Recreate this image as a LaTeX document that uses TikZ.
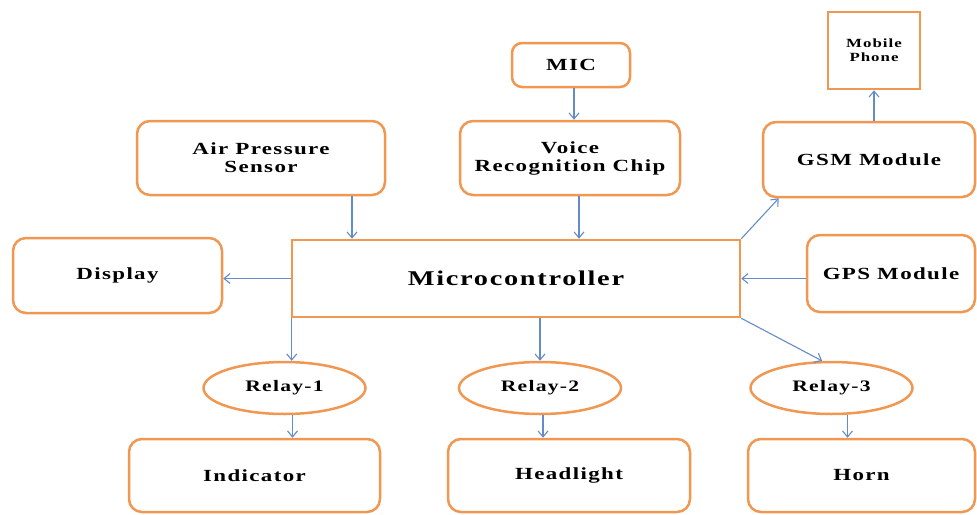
\documentclass[tikz,border=0pt]{standalone}
\usepackage{fontspec}
\setmainfont{Liberation Serif}[FakeStretch=1.35,LetterSpace=8]
\usetikzlibrary{arrows.meta,shapes.geometric}
\definecolor{boxorange}{RGB}{240,152,82}
\definecolor{arrblue}{RGB}{100,140,200}
\tikzset{
  blk/.style={draw=boxorange, line width=2.5pt, rounded corners=13pt, fill=white, align=center, inner sep=0pt,
    font=\fontsize{17}{18}\selectfont\bfseries},
  relay/.style={ellipse, draw=boxorange, line width=2.5pt, fill=white, inner sep=0pt,
    minimum width=162pt, minimum height=52pt, font=\fontsize{16}{18}\selectfont\bfseries},
  arr/.style={draw=arrblue, line width=1.1pt, -{Straight Barb[length=6pt,width=10pt]}}
}
\begin{document}
\begin{tikzpicture}[x=1pt, y=-1pt]
    \useasboundingbox (0,0) rectangle (977,514);
    % top row
    \node[blk, rounded corners=10pt, minimum width=118pt, minimum height=44pt] (mic) at (571,65) {MIC};
    \node[blk, rounded corners=0pt, minimum width=92pt, minimum height=77pt,
          font=\fontsize{12.5}{14}\selectfont\bfseries] (mobile) at (874,50.5) {Mobile\\Phone};
    \node[blk, minimum width=248pt, minimum height=74pt] (air) at (261,158) {Air Pressure\\Sensor};
    \node[blk, minimum width=220pt, minimum height=74pt] (voice) at (570,158) {Voice\\Recognition Chip};
    \node[blk, minimum width=212pt, minimum height=75pt] (gsm) at (869,159.5) {GSM Module};
    % middle row
    \node[blk, minimum width=209pt, minimum height=75pt] (display) at (117.5,275.5) {Display};
    \node[blk, rounded corners=0pt, minimum width=448pt, minimum height=77pt,
          font=\fontsize{21}{24}\selectfont\bfseries] (micro) at (516,278.5) {Microcontroller};
    \node[blk, minimum width=168pt, minimum height=77pt] (gps) at (891,273.5) {GPS Module};
    % relays
    \node[relay] (relay1) at (284.5,388) {Relay-1};
    \node[relay] (relay2) at (540,388) {Relay-2};
    \node[relay] (relay3) at (831.5,388) {Relay-3};
    % loads
    \node[blk, minimum width=251pt, minimum height=73pt] (indicator) at (254.5,475.5) {Indicator};
    \node[blk, minimum width=242pt, minimum height=73pt] (headlight) at (569,475.5) {Headlight};
    \node[blk, minimum width=227pt, minimum height=73pt] (horn) at (861.5,475.5) {Horn};

    \draw[arr] ([xshift=3pt]mic.south) -- ([xshift=3pt]mic.south |- voice.north);
    \draw[arr] ([xshift=9pt]voice.south) -- ([xshift=9pt]voice.south |- micro.north);
    \draw[arr] ([xshift=91pt]air.south) -- ([xshift=91pt]air.south |- micro.north);
    \draw[arr] (gsm.north -| mobile.south) -- (mobile.south);
    \draw[arr] (micro.north east) -- ([xshift=17pt]gsm.south west);
    \draw[arr] (gps.west |- micro.east) -- (micro.east);
    \draw[arr] (micro.west) -- (display.east |- micro.west);
    \draw[arr] ([xshift=1pt]micro.south west) -- ([xshift=1pt]micro.south west |- relay1.north);
    \draw[arr] (micro.south -| relay2.north) -- (relay2.north);
    \draw[arr] (micro.south east) -- (relay3.109);
    \draw[arr] ([xshift=8pt]relay1.south) -- ([xshift=8pt]relay1.south |- indicator.north);
    \draw[arr] ([xshift=3pt]relay2.south) -- ([xshift=3pt]relay2.south |- headlight.north);
    \draw[arr] ([xshift=16pt]relay3.south) -- ([xshift=16pt]relay3.south |- horn.north);
\end{tikzpicture}
\end{document}
